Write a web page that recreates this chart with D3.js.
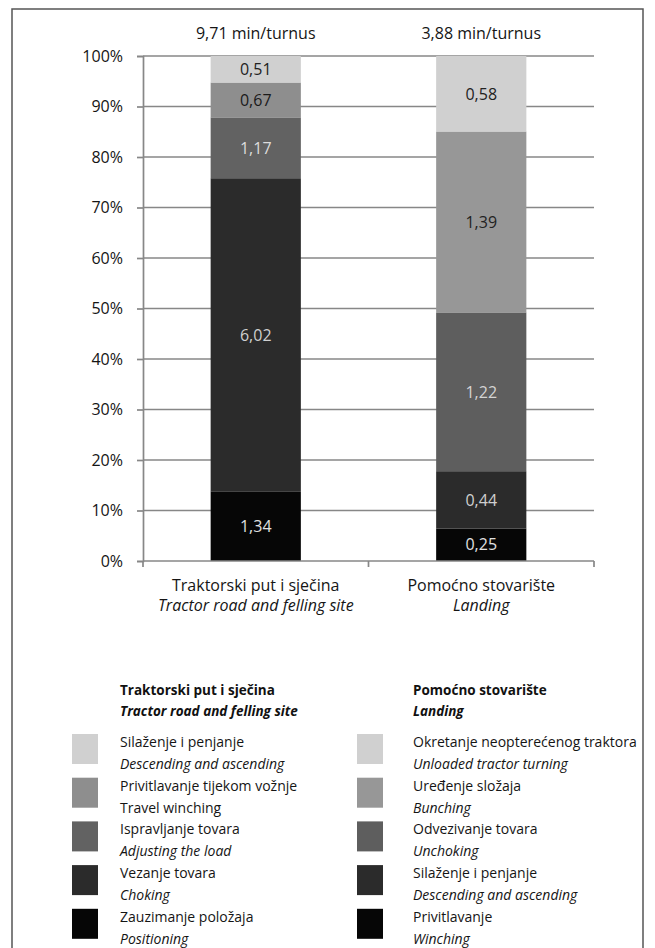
<!DOCTYPE html>
<html><head><meta charset="utf-8">
<script src="https://cdn.jsdelivr.net/npm/d3@7"></script>
<style>
html,body{margin:0;padding:0;background:#fff;}
svg{display:block;font-family:"Open Sans",sans-serif;}
</style></head>
<body>
<svg id="chart" width="655" height="948"></svg>
<script>
// ---- data ----
const categories = ["Traktorski put i sječina", "Pomoćno stovarište"];
const categoriesEn = ["Tractor road and felling site", "Landing"];
const totalLabels = ["9,71 min/turnus", "3,88 min/turnus"];
const roadValues = [1.34, 6.02, 1.17, 0.67, 0.51];
const landingValues = [0.25, 0.44, 1.22, 1.39, 0.58];
const roadSeries = ["Zauzimanje položaja", "Vezanje tovara", "Ispravljanje tovara", "Privitlavanje tijekom vožnje", "Silaženje i penjanje"];
const roadSeriesEn = ["Positioning", "Choking", "Adjusting the load", "Travel winching", "Descending and ascending"];
const landingSeries = ["Privitlavanje", "Silaženje i penjanje", "Odvezivanje tovara", "Uređenje složaja", "Okretanje neopterećenog traktora"];
const landingSeriesEn = ["Winching", "Descending and ascending", "Unchoking", "Bunching", "Unloaded tractor turning"];
const yTicks = [0, 0.1, 0.2, 0.3, 0.4, 0.5, 0.6, 0.7, 0.8, 0.9, 1.0];

// ---- styles ----
const roadColors = ["#060606", "#2b2b2b", "#626262", "#8e8e8e", "#d0d0d0"];
const landingColors = ["#060606", "#2b2b2b", "#5e5e5e", "#979797", "#d0d0d0"];
const roadText = ["#e0e0e0", "#d0d0d0", "#dcdcdc", "#1a1a1a", "#222"];
const landingText = ["#e0e0e0", "#d0d0d0", "#d4d4d4", "#222", "#222"];
const englishItalic = [true, true, true, false, true];

const svg = d3.select("#chart");
const valueSets = [roadValues, landingValues];
const colorSets = [roadColors, landingColors];
const textSets = [roadText, landingText];

const keys = d3.range(5);
const table = categories.map((c, i) => {
  const row = {cat: c};
  keys.forEach(k => row[k] = valueSets[i][k]);
  return row;
});
const stacked = d3.stack().keys(keys).offset(d3.stackOffsetExpand)(table);

const x0 = 143, x1 = 594, yTop = 56, yBot = 561;
const x = d3.scaleBand().domain(categories).range([x0, x1]).paddingInner(0.6).paddingOuter(0.3);
const y = d3.scaleLinear().domain([0, 1]).range([yBot, yTop]);
const txt = "#151515";

// frame
svg.append("rect").attr("x", 12).attr("y", 9).attr("width", 631).attr("height", 960)
  .attr("fill", "none").attr("stroke", "#555").attr("stroke-width", 1.5);

// gridlines
svg.append("g").selectAll("line").data(yTicks.slice(1)).join("line")
  .attr("x1", x0).attr("x2", x1).attr("y1", d => y(d)).attr("y2", d => y(d))
  .attr("stroke", "#878787").attr("stroke-width", 1.7);

// y axis
const yAxis = svg.append("g").attr("transform", `translate(${x0},0)`)
  .call(d3.axisLeft(y).tickValues(yTicks).tickFormat(d => Math.round(d * 100) + "%").tickSize(6).tickPadding(14));
yAxis.select(".domain").attr("stroke", "#878787").attr("stroke-width", 1.7);
yAxis.selectAll(".tick line").attr("stroke", "#878787").attr("stroke-width", 1.7);
yAxis.selectAll("text").attr("font-size", 16).attr("fill", txt).attr("font-family", "Open Sans, sans-serif");

// bars
const segs = svg.append("g");
stacked.forEach((layer, li) => {
  layer.forEach((d, ci) => {
    segs.append("rect")
      .attr("x", x(categories[ci])).attr("width", x.bandwidth())
      .attr("y", y(d[1])).attr("height", y(d[0]) - y(d[1]))
      .attr("fill", colorSets[ci][li]);
    segs.append("text")
      .attr("x", x(categories[ci]) + x.bandwidth() / 2)
      .attr("y", (y(d[0]) + y(d[1])) / 2)
      .attr("dy", "0.36em").attr("text-anchor", "middle")
      .attr("font-size", 16).attr("fill", textSets[ci][li])
      .text(d3.format(".2f")(valueSets[ci][li]).replace(".", ","));
  });
});

// x axis
const xAxis = svg.append("g").attr("transform", `translate(0,${yBot})`);
xAxis.append("line").attr("x1", x0).attr("x2", x1).attr("stroke", "#878787").attr("stroke-width", 1.7);
const xTicks = [x0, (x0 + x1) / 2, x1];
xAxis.selectAll(".xt").data(xTicks).join("line").attr("class", "xt")
  .attr("x1", d => d).attr("x2", d => d).attr("y1", 0).attr("y2", 6)
  .attr("stroke", "#878787").attr("stroke-width", 1.7);
categories.forEach((c, i) => {
  const cx = x(c) + x.bandwidth() / 2;
  svg.append("text").attr("x", cx).attr("y", 591).attr("text-anchor", "middle")
    .attr("font-size", 16).attr("fill", txt).text(c);
  svg.append("text").attr("x", cx).attr("y", 611).attr("text-anchor", "middle")
    .attr("font-size", 16).attr("font-style", "italic").attr("fill", txt).text(categoriesEn[i]);
  svg.append("text").attr("x", cx).attr("y", 39).attr("text-anchor", "middle")
    .attr("font-size", 16).attr("fill", txt).text(totalLabels[i]);
});

// legend
const legendCols = [
  {tx: 120, sx: 72, names: roadSeries, en: roadSeriesEn, colors: roadColors, italic: englishItalic, head: categories[0], headEn: categoriesEn[0]},
  {tx: 413, sx: 357, names: landingSeries, en: landingSeriesEn, colors: landingColors, italic: [true, true, true, true, true], head: categories[1], headEn: categoriesEn[1]}
];
legendCols.forEach(col => {
  const g = svg.append("g");
  g.append("text").attr("x", col.tx).attr("y", 695).attr("font-size", 13.5).attr("font-weight", "bold").attr("fill", "#111").text(col.head);
  g.append("text").attr("x", col.tx).attr("y", 716).attr("font-size", 13.5).attr("font-weight", "bold").attr("font-style", "italic").attr("fill", "#111").text(col.headEn);
  const order = [4, 3, 2, 1, 0];
  order.forEach((k, r) => {
    const c1 = 742 + r * 43.7;
    g.append("rect").attr("x", col.sx).attr("y", c1 - 8).attr("width", 26).attr("height", 30).attr("fill", col.colors[k]);
    g.append("text").attr("x", col.tx).attr("y", c1 + 5).attr("font-size", 14).attr("fill", txt).text(col.names[k]);
    g.append("text").attr("x", col.tx).attr("y", c1 + 27).attr("font-size", 14)
      .attr("font-style", col.italic[k] ? "italic" : "normal").attr("fill", txt).text(col.en[k]);
  });
});
</script>
</body></html>
